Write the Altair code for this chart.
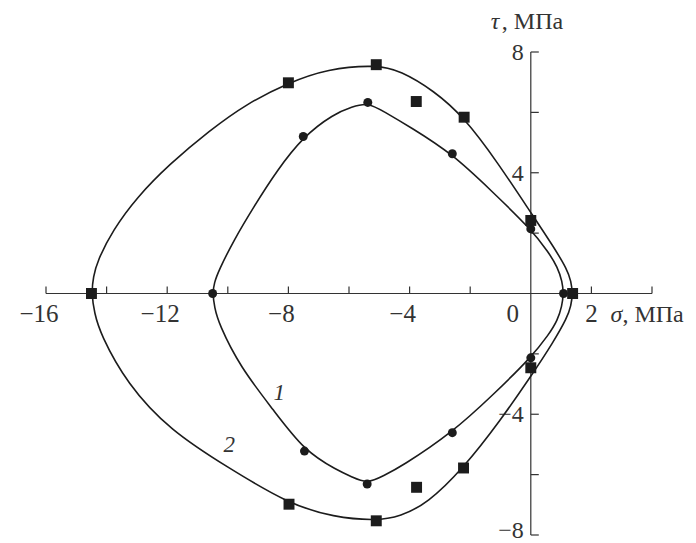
import altair as alt
import pandas as pd

# Experimental points (sigma, tau in MPa)
pts1_sigma = [-10.5, -7.51, -5.38, -2.59, 0.0, 1.08, 0.0, -2.59, -5.4, -7.47]
pts1_tau = [0.0, 5.20, 6.33, 4.63, 2.14, 0.0, -2.13, -4.61, -6.31, -5.22]
pts2_sigma = [-14.5, -8.0, -5.1, -3.78, -2.2, 0.0, 1.38, 0.0, -2.22, -3.77, -5.1, -7.98]
pts2_tau = [0.0, 6.98, 7.58, 6.36, 5.84, 2.42, 0.0, -2.46, -5.78, -6.42, -7.53, -6.98]

# Limit curve 1, closed loop traced clockwise from the leftmost point
curve1_sigma = [-10.5, -10.45, -10.3, -9.81, -9.15, -8.38, -7.51, -6.5, -5.9, -5.38,
                -4.85, -3.97, -2.59, -1.3, 0.0, 0.6, 0.88, 1.04, 1.08,
                1.03, 0.88, 0.6, 0.0, -1.21, -2.59, -4.3, -4.85, -5.4, -5.9,
                -6.38, -7.47, -8.5, -9.59, -10.3, -10.44]
curve1_tau = [0.0, 0.35, 0.76, 1.75, 2.86, 4.07, 5.20, 5.95, 6.18, 6.33,
              6.03, 5.51, 4.63, 3.40, 2.14, 1.35, 0.87, 0.4, 0.0,
              -0.42, -0.89, -1.35, -2.13, -3.32, -4.61, -5.75, -6.03, -6.31, -6.08,
              -5.86, -5.22, -3.85, -2.44, -1.0, -0.45]

# Limit curve 2, closed loop traced clockwise from the leftmost point
curve2_sigma = [-14.5, -14.44, -14.3, -13.8, -13.0, -11.92, -10.6, -9.39, -8.0, -6.72,
                -5.1, -4.3, -3.2, -2.2, -1.1, 0.0, 0.75, 1.2, 1.33, 1.38,
                1.33, 1.2, 0.75, 0.0, -1.0, -2.22, -3.42, -4.3, -5.1, -6.5,
                -7.98, -10.02, -11.9, -13.33, -14.21, -14.4]
curve2_tau = [0.0, 0.55, 1.09, 2.09, 3.19, 4.29, 5.40, 6.28, 6.98, 7.44,
              7.58, 7.38, 6.72, 5.84, 4.35, 2.68, 1.55, 0.8, 0.4, 0.0,
              -0.4, -0.8, -1.6, -2.75, -4.2, -5.78, -6.96, -7.38, -7.53, -7.41,
              -6.98, -5.75, -4.54, -2.99, -1.33, -0.65]

# Axes
x_range = [-16, 4]
y_range = [-8, 8]
x_ticks = [-16, -14, -12, -10, -8, -6, -4, -2, 2, 4]
y_ticks = [-8, -6, -4, -2, 2, 4, 6, 8]
x_labels_two = [(-16, "−16"), (-12, "−12")]
x_labels_one = [(-8, "−8"), (-4, "−4")]
y_labels = [(8, "8"), (4, "4"), (-4, "−4")]
y_label_bottom = [(-8, "−8")]
curve_labels = [(-8.30, -3.31, "1"), (-9.95, -5.03, "2")]

INK = "#1c1c1c"
AXIS = "#333333"
FONT = "Liberation Serif"

xs = alt.Scale(domain=x_range, nice=False, zero=False)
ys = alt.Scale(domain=y_range, nice=False, zero=False)


def X(f):
    return alt.X(f, type="quantitative", scale=xs, axis=None)


def Y(f):
    return alt.Y(f, type="quantitative", scale=ys, axis=None)


c1 = pd.DataFrame({"s": curve1_sigma, "t": curve1_tau, "i": range(len(curve1_sigma))})
c2 = pd.DataFrame({"s": curve2_sigma, "t": curve2_tau, "i": range(len(curve2_sigma))})
p1 = pd.DataFrame({"s": pts1_sigma, "t": pts1_tau})
p2 = pd.DataFrame({"s": pts2_sigma, "t": pts2_tau})

xaxis_df = pd.DataFrame({"a": [x_range[0]], "b": [x_range[1]], "z": [0]})
yaxis_df = pd.DataFrame({"a": [y_range[0]], "b": [y_range[1]], "z": [0]})
xt_df = pd.DataFrame({"v": x_ticks, "z": 0})
yt_df = pd.DataFrame({"v": y_ticks, "z": 0})

x_axis_line = alt.Chart(xaxis_df).mark_rule(color=AXIS, strokeWidth=1.2).encode(
    x=X("a"), x2="b", y=Y("z"))
y_axis_line = alt.Chart(yaxis_df).mark_rule(color=AXIS, strokeWidth=1.2).encode(
    y=Y("a"), y2="b", x=X("z"))
x_tick_marks = alt.Chart(xt_df).mark_rule(color=AXIS, strokeWidth=1.2, y2Offset=-7).encode(
    x=X("v"), y=Y("z"), y2="z")
y_tick_marks = alt.Chart(yt_df).mark_rule(color=AXIS, strokeWidth=1.2, x2Offset=8).encode(
    y=Y("v"), x=X("z"), x2="z")


def xlab(pairs, align, dx):
    df = pd.DataFrame({"v": [p[0] for p in pairs], "txt": [p[1] for p in pairs], "z": 0})
    return alt.Chart(df).mark_text(font=FONT, fontSize=25, color=AXIS, align=align,
                                   baseline="alphabetic", dx=dx, dy=28).encode(
        x=X("v"), y=Y("z"), text="txt")


def ylab(pairs, dy):
    df = pd.DataFrame({"v": [p[0] for p in pairs], "txt": [p[1] for p in pairs], "z": 0})
    return alt.Chart(df).mark_text(font=FONT, fontSize=24, color=AXIS, align="right",
                                   baseline="middle", dx=-7, dy=dy).encode(
        y=Y("v"), x=X("z"), text="txt")


# negative labels: digits centred on the tick, minus sign hanging to the left
x_lab_two = xlab(x_labels_two, "right", 12.5)
x_lab_one = xlab(x_labels_one, "right", 6.3)
x_lab_pos = xlab([(2, "2")], "center", 0)
x_lab_zero = xlab([(0, "0")], "center", -18)

y_lab = ylab(y_labels, 1)
y_lab_bottom = ylab(y_label_bottom, -4)

# Axis titles
title_df = pd.DataFrame({"xs": [2], "ys": [0], "xt": [0], "yt": [8]})
sigma_sym = alt.Chart(title_df).mark_text(font=FONT, fontSize=24, fontStyle="italic", color=AXIS,
                                          align="left", baseline="alphabetic", dx=19, dy=28).encode(
    x=X("xs"), y=Y("ys"), text=alt.value("σ"))
sigma_unit = alt.Chart(title_df).mark_text(font=FONT, fontSize=24, color=AXIS,
                                           align="left", baseline="alphabetic", dx=31, dy=28).encode(
    x=X("xs"), y=Y("ys"), text=alt.value(", МПа"))
tau_sym = alt.Chart(title_df).mark_text(font=FONT, fontSize=24, fontStyle="italic", color=AXIS,
                                        align="left", baseline="alphabetic", dx=-40, dy=-23).encode(
    x=X("xt"), y=Y("yt"), text=alt.value("τ"))
tau_unit = alt.Chart(title_df).mark_text(font=FONT, fontSize=24, color=AXIS,
                                         align="left", baseline="alphabetic", dx=-29, dy=-23).encode(
    x=X("xt"), y=Y("yt"), text=alt.value(", МПа"))

# smooth closed B-spline through the traced loop
line1 = alt.Chart(c1).mark_line(interpolate="basis-closed", color=INK, strokeWidth=1.6).encode(
    x=X("s"), y=Y("t"), order="i:Q")
line2 = alt.Chart(c2).mark_line(interpolate="basis-closed", color=INK, strokeWidth=1.6).encode(
    x=X("s"), y=Y("t"), order="i:Q")
dots1 = alt.Chart(p1).mark_point(shape="circle", filled=True, size=80, color=INK, opacity=1).encode(
    x=X("s"), y=Y("t"))
dots2 = alt.Chart(p2).mark_point(shape="square", filled=True, size=120, color=INK, opacity=1).encode(
    x=X("s"), y=Y("t"))

cl_df = pd.DataFrame({"s": [c[0] for c in curve_labels], "t": [c[1] for c in curve_labels],
                      "txt": [c[2] for c in curve_labels]})
curve_lab = alt.Chart(cl_df).mark_text(font=FONT, fontSize=23, fontStyle="italic", color=AXIS,
                                       baseline="middle", align="center").encode(
    x=X("s"), y=Y("t"), text="txt")

chart = alt.layer(
    x_axis_line, y_axis_line, x_tick_marks, y_tick_marks,
    x_lab_two, x_lab_one, x_lab_pos, x_lab_zero, y_lab, y_lab_bottom,
    sigma_sym, sigma_unit, tau_sym, tau_unit,
    line1, line2, dots1, dots2, curve_lab,
).properties(
    width=606, height=483,
    autosize=alt.AutoSizeParams(type="none"),
    padding={"left": 46, "top": 52, "right": 44, "bottom": 8},
    background="white",
).configure_view(strokeWidth=0)

chart.save("out.html", embed_options={"renderer": "svg", "actions": False})
